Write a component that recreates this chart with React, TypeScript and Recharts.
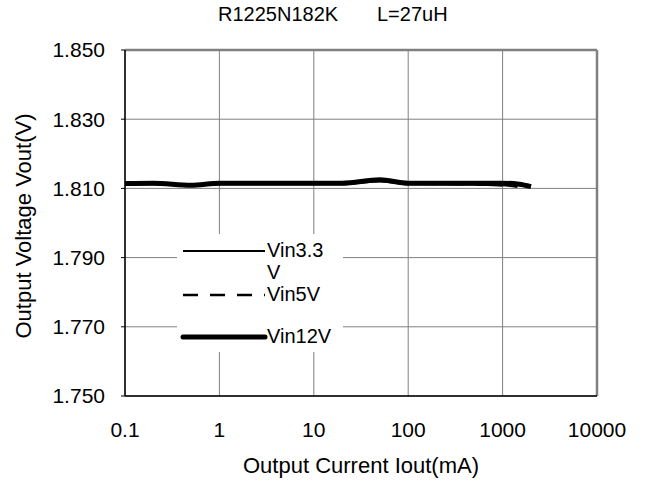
import React from "react";
import { CartesianGrid, Line, LineChart, ReferenceLine, XAxis, YAxis } from "recharts";

const currents = [0.1, 0.2, 0.5, 1, 2, 5, 10, 20, 50, 100, 200, 500, 1000, 1500, 2000];
const vin33 = [1.8112, 1.8112, 1.8108, 1.8112, 1.8112, 1.8112, 1.8112, 1.8112, 1.812, 1.8112, 1.8112, 1.8111, 1.8108, null, null];
const vin5 = [1.8113, 1.8113, 1.8108, 1.8113, 1.8113, 1.8113, 1.8113, 1.8113, 1.8122, 1.8113, 1.8112, 1.8111, 1.8109, 1.8103, null];
const vin12 = [1.8114, 1.8115, 1.8109, 1.8115, 1.8115, 1.8115, 1.8115, 1.8115, 1.8125, 1.8115, 1.8115, 1.8115, 1.8115, 1.8112, 1.8105];
const xTicks = [0.1, 1, 10, 100, 1000, 10000];
const yTicks = [1.75, 1.77, 1.79, 1.81, 1.83, 1.85];

const data = currents.map((iout, i) => ({ iout, vin33: vin33[i], vin5: vin5[i], vin12: vin12[i] }));

const font = "'Liberation Sans', Arial, sans-serif";

// legend sits inside the plot on a white box, drawn over the chart
function LegendBox() {
  const row = (dash: string | undefined, width: number, label: React.ReactNode, lineY: number) => (
    <>
      <svg width={90} height={12} style={{ position: "absolute", left: 2, top: lineY - 6 }}>
        <line x1={4} y1={6} x2={86} y2={6} stroke="#000" strokeWidth={width} strokeDasharray={dash} strokeLinecap={width > 3 ? "round" : "butt"} />
      </svg>
      <div style={{ position: "absolute", left: 90, top: lineY - 12, fontSize: 20, lineHeight: "22px" }}>{label}</div>
    </>
  );
  return (
    <div style={{ position: "absolute", left: 177, top: 234, width: 166, height: 118, background: "#fff", fontFamily: font }}>
      {row(undefined, 2, <>Vin3.3<br />V</>, 17)}
      {row("15 12", 2.5, "Vin5V", 61)}
      {row(undefined, 5, "Vin12V", 103)}
    </div>
  );
}

export default function App() {
  return (
    <div style={{ position: "absolute", left: 0, top: 0, width: 649, height: 484, background: "#fff", fontFamily: font }}>
      <div style={{ position: "absolute", left: 218, top: 3, fontSize: 20, whiteSpace: "pre" }}>
        {"R1225N182K       L=27uH"}
      </div>
      <LineChart width={649} height={484} data={data} margin={{ top: 50, right: 52, bottom: 0, left: 0 }}>
        <CartesianGrid stroke="#808080" strokeWidth={1} />
        <XAxis
          dataKey="iout"
          type="number"
          scale="log"
          domain={[0.1, 10000]}
          ticks={xTicks}
          allowDataOverflow
          axisLine={{ stroke: "#000", strokeWidth: 1.5 }}
          tickLine={false}
          tick={{ fontSize: 21, fill: "#000", fontFamily: font }}
          tickMargin={20}
          height={88}
        />
        <YAxis
          type="number"
          domain={[1.75, 1.85]}
          ticks={yTicks}
          allowDataOverflow
          tickFormatter={(v: number) => v.toFixed(3)}
          axisLine={{ stroke: "#000", strokeWidth: 1.5 }}
          tickLine={{ stroke: "#000" }}
          tickSize={4}
          tickMargin={16}
          tick={{ fontSize: 21, fill: "#000", fontFamily: font }}
          width={125}
        />
        <ReferenceLine y={1.85} stroke="#808080" strokeWidth={2.5} />
        <ReferenceLine x={10000} stroke="#808080" strokeWidth={2.5} />
        <Line dataKey="vin33" type="monotone" stroke="#000" strokeWidth={2} dot={false} isAnimationActive={false} />
        <Line dataKey="vin5" type="monotone" stroke="#000" strokeWidth={2} strokeDasharray="15 12" dot={false} isAnimationActive={false} />
        <Line dataKey="vin12" type="monotone" stroke="#000" strokeWidth={5} dot={false} isAnimationActive={false} />
      </LineChart>
      <LegendBox />
      <div style={{ position: "absolute", left: 211, width: 300, top: 453, textAlign: "center", fontSize: 22, whiteSpace: "nowrap" }}>
        Output Current Iout(mA)
      </div>
      <div
        style={{
          position: "absolute",
          left: 24,
          top: 226,
          transform: "translate(-50%, -50%) rotate(-90deg)",
          fontSize: 22,
          whiteSpace: "nowrap",
        }}
      >
        Output Voltage Vout(V)
      </div>
    </div>
  );
}
